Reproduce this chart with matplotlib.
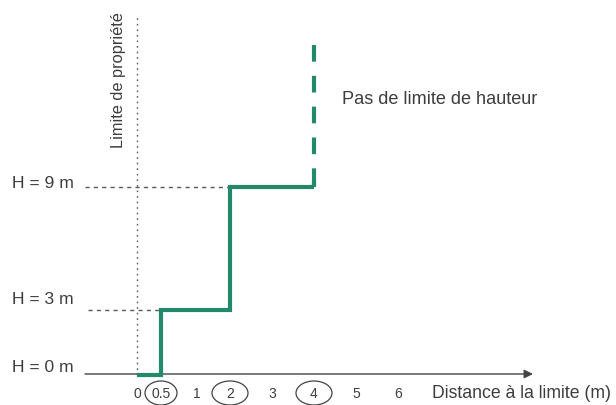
import numpy as np
import matplotlib
matplotlib.use("Agg")
import matplotlib.pyplot as plt
from matplotlib.patches import Ellipse

# ---- data ----
distance_ticks = [0, 0.5, 1, 2, 3, 4, 5, 6]
tick_labels = ["0", "0.5", "1", "2", "3", "4", "5", "6"]
circled_ticks = [0.5, 2, 4]
height_levels = [0, 3, 9]
height_labels = ["H = 0 m", "H = 3 m", "H = 9 m"]
profile_x = [0, 0.5, 0.5, 2, 2, 4]
profile_h = [0, 0, 3, 3, 9, 9]
unlimited_from_x = 4
unlimited_from_h = 9
unlimited_top_h = 15.93
property_line_top = 17.4

GREEN = "#23896a"
GREY = "#5a5a5a"
TXT = "#3d3d3d"
FONT = "Liberation Sans"

# piecewise scales (diagram is not drawn to scale)
xd = [-10, 0, 0.5, 1, 2, 4, 6, 20]
xp = [-480, 0, 24, 60, 93, 177, 261, 849]
yd = [-10, 0, 3, 9, 30]
yp = [-205, 0, 65, 188, 618.5]

fx = lambda v: np.interp(v, xd, xp)
ix = lambda v: np.interp(v, xp, xd)
fy = lambda v: np.interp(v, yd, yp)
iy = lambda v: np.interp(v, yp, yd)

W, H = 616, 405
fig = plt.figure(figsize=(W / 100, H / 100), dpi=100)
ax = fig.add_axes([0, 0, 1, 1])
ax.set_xscale("function", functions=(fx, ix))
ax.set_yscale("function", functions=(fy, iy))
ax.set_xlim(ix(-137), ix(W - 137))
ax.set_ylim(iy(-30), iy(375))
ax.axis("off")

# property line (dotted)
ax.plot([0, 0], [0, property_line_top], color=GREY, lw=1.0,
        linestyle=(0, (1.2, 2.8)), zorder=1)

# reference height lines
left_x = ix(85 - 137)
ax.plot([left_x, 2], [9, 9], color=GREY, lw=1.0, linestyle=(0, (3, 3)), zorder=1)
ax.plot([ix(88 - 137), 0.5], [3, 3], color=GREY, lw=1.0, linestyle=(0, (3, 3)), zorder=1)

# horizontal axis with arrow
ax.annotate("", xy=(533 / W, 1 - 374 / H), xytext=(85 / W, 1 - 374 / H),
            xycoords="figure fraction", textcoords="figure fraction",
            arrowprops=dict(arrowstyle="-|>", color="#444444", lw=1.0,
                            mutation_scale=13, shrinkA=0, shrinkB=0))

# green profile
ax.plot(profile_x, profile_h, color=GREEN, lw=3.0, solid_capstyle="butt",
        solid_joinstyle="miter", zorder=3)
ax.plot([unlimited_from_x, unlimited_from_x], [unlimited_top_h, unlimited_from_h],
        color=GREEN, lw=3.0, linestyle=(0, (4.0, 3.4)), dash_capstyle="butt", zorder=3)
ax.plot([unlimited_from_x, unlimited_from_x], [unlimited_from_h + 0.25, unlimited_from_h],
        color=GREEN, lw=3.0, solid_capstyle="butt", zorder=3)

# tick labels
fig.canvas.draw()
for t, lab in zip(distance_ticks, tick_labels):
    px = ax.transData.transform((t, 0))[0]
    fig.text(px / W, 1 - 394 / H, lab, ha="center", va="center",
             fontsize=10, color=TXT, family=FONT)
for t in circled_ticks:
    px = ax.transData.transform((t, 0))[0]
    w = 36 if t != 0.5 else 32
    e = Ellipse((px / W, 1 - 393 / H), w / W, 24 / H, transform=fig.transFigure,
                fill=False, edgecolor="#444444", lw=0.9)
    fig.add_artist(e)

# height labels
ypix = {0: 367, 3: 300, 9: 183}
for h, lab in zip(height_levels, height_labels):
    fig.text(12 / W, 1 - ypix[h] / H, lab, ha="left", va="center",
             fontsize=12.6, color=TXT, family=FONT)

fig.text(432 / W, 1 - 393 / H, "Distance à la limite (m)", ha="left", va="center",
         fontsize=12.7, color=TXT, family=FONT)
fig.text(342 / W, 1 - 100 / H, "Pas de limite de hauteur", ha="left", va="center",
         fontsize=13.1, color=TXT, family=FONT)
fig.text(118 / W, 1 - 12 / H, "Limite de propriété", ha="center", va="top",
         rotation=90, fontsize=11.8, color=TXT, family=FONT)

fig.savefig("out.png", dpi=100, facecolor="white")
